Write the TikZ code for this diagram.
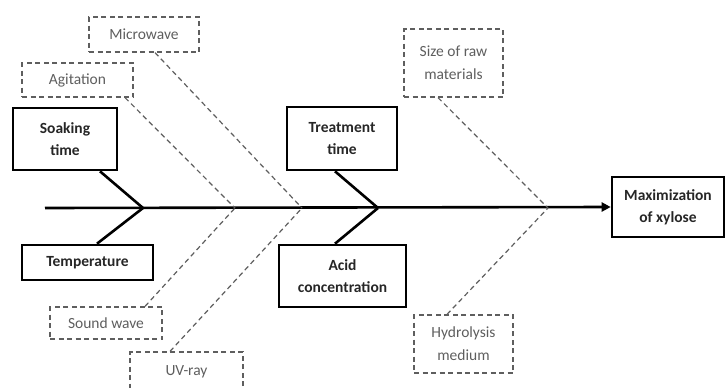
\documentclass[tikz,border=0pt]{standalone}
\usepackage{fontspec}
\setmainfont{Carlito}
\usetikzlibrary{arrows.meta}
\definecolor{dgray}{HTML}{5E5E5E}
\tikzset{
  solidbox/.style={draw=black, line width=2.6pt, align=center, font=\fontsize{15.5}{22}\selectfont\bfseries, text=black!85, inner sep=0pt},
  dashbox/.style={draw=dgray, dashed, line width=1.2pt, dash pattern=on 5pt off 3.5pt, align=center, font=\fontsize{15.5}{23}\selectfont, text=dgray, inner sep=0pt},
  bone/.style={line width=2.6pt},
  dbone/.style={draw=dgray, line width=1.2pt, dash pattern=on 5pt off 3.5pt},
}
\begin{document}
\begin{tikzpicture}[x=1pt,y=-1pt]
\useasboundingbox (0,0) rectangle (726,388);
% solid boxes
\node[solidbox, minimum width=104pt, minimum height=62pt] (soak) at (65,139) {Soaking\\time};
\node[solidbox, minimum width=131pt, minimum height=35pt] (temp) at (87.5,262.5) {Temperature};
\node[solidbox, minimum width=110pt, minimum height=63pt] (treat) at (342,138.5) {Treatment\\time};
\node[solidbox, minimum width=127pt, minimum height=62pt] (acid) at (342.5,276) {Acid\\concentration};
\node[solidbox, minimum width=112pt, minimum height=60pt] (out) at (668,207) {Maximization\\of xylose};
% dashed boxes
\node[dashbox, minimum width=110pt, minimum height=35pt] (micro) at (144,34.5) {Microwave};
\node[dashbox, minimum width=111pt, minimum height=34pt] (agit) at (77.5,80) {Agitation};
\node[dashbox, minimum width=99pt, minimum height=68pt] (size) at (453.5,63) {Size of raw\\materials};
\node[dashbox, minimum width=112pt, minimum height=32pt] (sound) at (106,323) {Sound wave};
\node[dashbox, minimum width=113pt, minimum height=40pt] (uv) at (186.5,372) {UV-ray};
\node[dashbox, minimum width=99pt, minimum height=58pt] (hydro) at (463.5,344) {Hydrolysis\\medium};
% junctions
\coordinate (s0) at (45,208);
\coordinate (j1) at (143,208);
\coordinate (j2) at (235,208);
\coordinate (j3) at (302,208);
\coordinate (j4) at (378,208);
\coordinate (j5) at (548,208);
% spine
\draw[bone, -{Triangle[length=9pt,width=9pt]}] (s0) -- (out.west);
% solid bones
\draw[bone] ([xshift=35pt]soak.south) -- (j1);
\draw[bone] ([xshift=9.5pt]temp.north) -- (j1);
\draw[bone] ([xshift=-7pt]treat.south) -- (j4);
\draw[bone] ([xshift=-7.5pt]acid.north) -- (j4);
% dashed bones
\draw[dbone] ([xshift=47.5pt]agit.south) -- (j2);
\draw[dbone] ([xshift=11pt]micro.south) -- (j3);
\draw[dbone] ([xshift=39pt]sound.north) -- (j2);
\draw[dbone] ([xshift=-16.5pt]uv.north) -- (j3);
\draw[dbone] ([xshift=-15.5pt]size.south) -- (j5);
\draw[dbone] ([xshift=-16.5pt]hydro.north) -- (j5);
\end{tikzpicture}
\end{document}
